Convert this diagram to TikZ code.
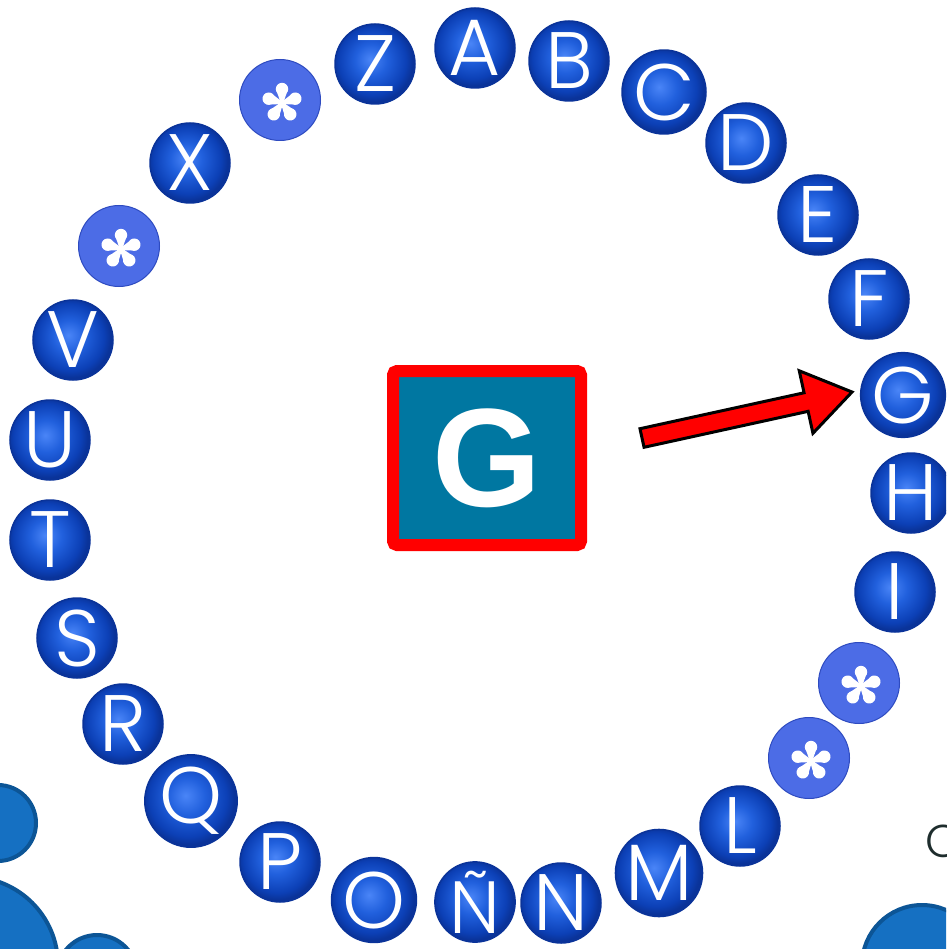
\documentclass[tikz,border=0pt]{standalone}
\usepackage{fontspec}
\usetikzlibrary{calc}
\newfontfamily\lettfont{Poppins}[UprightFont=* Light]
\newfontfamily\boldsans{Liberation Sans}
\definecolor{balllight}{HTML}{4A85F7}
\definecolor{ballmid}{HTML}{2160DD}
\definecolor{balldark}{HTML}{0C40B6}
\definecolor{balledge}{HTML}{0A3399}
\definecolor{astfill}{HTML}{4C6CE6}
\definecolor{astedge}{HTML}{2E4BC0}
\definecolor{boxteal}{HTML}{0077A1}
\definecolor{decofill}{HTML}{1570C2}
\definecolor{decoedge}{HTML}{0C5596}
\definecolor{inkgray}{HTML}{1E2D2D}
\pgfdeclareradialshading{letterballshade}{\pgfpoint{-3bp}{3bp}}{color(0bp)=(balllight); color(10bp)=(ballmid); color(21bp)=(balldark); color(25bp)=(balledge); color(50bp)=(balledge)}
\tikzset{
  lball/.style={circle, minimum size=80pt, inner sep=0pt, shading=letterballshade, draw=balledge, line width=1.5pt, text=white, font={\lettfont\fontsize{80}{80}\selectfont}},
  aball/.style={circle, minimum size=81pt, inner sep=0pt, fill=astfill, draw=astedge, line width=1pt},
  decoball/.style={circle, inner sep=0pt, fill=decofill, draw=decoedge, line width=4pt},
  blockarrow/.style={fill=red, draw=black, line width=3pt, line join=miter},
  astr/.pic={
    \foreach \a in {90,162,234,306,18}{
      \begin{scope}[rotate=\a]
        \fill[white] (14pt,0pt) circle (6.2pt);
        \fill[white] (0pt,-1.2pt) -- (14pt,-6.1pt) -- (14pt,6.1pt) -- (0pt,1.2pt) -- cycle;
      \end{scope}
    }
    \fill[white] (0pt,0pt) circle (1.8pt);
  }
}
\begin{document}
\begin{tikzpicture}[x=1pt,y=-1pt]
\useasboundingbox (0,0) rectangle (946,949);
\clip (0,0) rectangle (946,949);
% decorative circles
\node[decoball, minimum size=76pt] (deco1) at (-2,823) {};
\node[decoball, minimum size=176pt] (deco2) at (-30,965) {};
\node[decoball, minimum size=80pt] (deco3) at (97,975) {};
\node[decoball, minimum size=120pt] (deco4) at (922,965) {};
\node[anchor=west, text=inkgray, font={\lettfont\fontsize{46}{46}\selectfont}, inner sep=0pt] (cmark) at (925,841) {C};
% ring of letters
\node[lball] (A) at (475,48) {A};
\node[lball] (B) at (569,61) {B};
\node[lball] (C) at (664,92) {C};
\node[lball] (D) at (746,143) {D};
\node[lball] (E) at (818,215) {E};
\node[lball] (F) at (869,299) {F};
\node[lball] (G) at (903,395) {G};
\node[lball] (H) at (911,493) {H};
\node[lball] (I) at (895,592) {I};
\node[aball] (ast1) at (859,683) {};
\node[aball] (ast2) at (809,758) {};
\node[lball] (L) at (740,826) {L};
\node[lball] (M) at (659,873) {M};
\node[lball] (N) at (561,903) {N};
\node[lball, font={\lettfont\fontsize{74}{74}\selectfont}] (NN) at (475,902) {Ñ};
\node[lball] (O) at (374,900) {O};
\node[lball] (P) at (280,862) {P};
\node[lball] (Q) at (191,801) {Q};
\node[lball] (R) at (123,724) {R};
\node[lball] (S) at (77,638) {S};
\node[lball] (T) at (50,540) {T};
\node[lball] (U) at (50,440) {U};
\node[lball] (V) at (73,340) {V};
\node[aball] (ast3) at (119,246) {};
\node[lball] (X) at (190,163) {X};
\node[aball] (ast4) at (280,100) {};
\node[lball] (Z) at (375,64) {Z};
\foreach \n in {ast1,ast2,ast3,ast4}{ \pic at ($(\n.center)+(2,3)$) {astr}; }
% central box
\node[draw=red, line width=12pt, fill=boxteal, rounded corners=4pt, minimum width=188pt, minimum height=174pt, inner sep=0pt, text=white, font={\boldsans\bfseries\fontsize{140}{140}\selectfont}] (box) at (487,458) {G};
% block arrow from box toward G
\coordinate (atail) at (642,438);
\coordinate (atip) at (852,392);
\coordinate (abase) at ($(atail)!0.7814!(atip)$);
\filldraw[blockarrow] ($(atail)!9.5pt!90:(atip)$) -- ($(abase)!9.5pt!90:(atip)$) -- ($(abase)!32pt!90:(atip)$) -- (atip) -- ($(abase)!32pt!-90:(atip)$) -- ($(abase)!9.5pt!-90:(atip)$) -- ($(atail)!9.5pt!-90:(atip)$) -- cycle;
\end{tikzpicture}
\end{document}
